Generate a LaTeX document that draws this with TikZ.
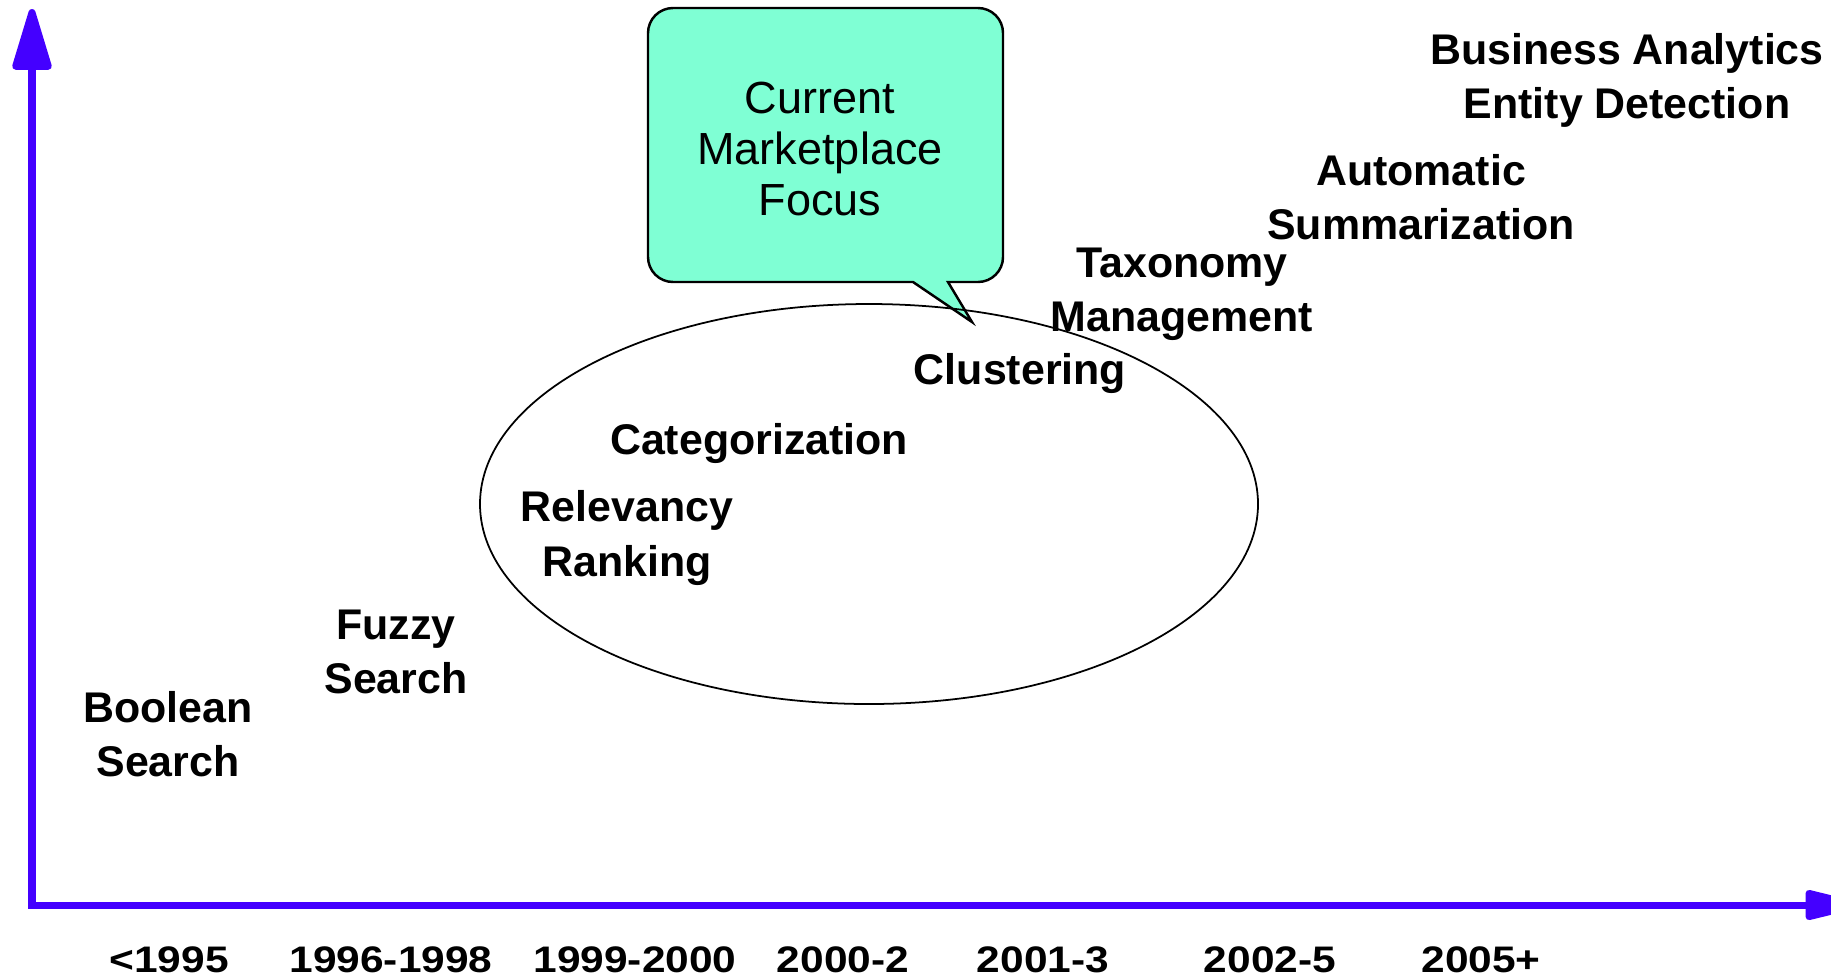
\documentclass[tikz,border=0pt]{standalone}
\usepackage{fontspec}
\setmainfont{Liberation Sans}
\usetikzlibrary{arrows.meta}

\definecolor{axisblue}{RGB}{68,0,255}
\definecolor{focusgreen}{RGB}{127,255,212}

\tikzset{
  lbl/.style={font=\bfseries\fontsize{12.2}{15.4}\selectfont,align=center,inner sep=0pt},
  yearlbl/.style={font=\bfseries\fontsize{10.5}{12}\selectfont,inner sep=0pt,xscale=1.15}
}

\begin{document}
\begin{tikzpicture}[x=0.01cm,y=-0.01cm]
\useasboundingbox (0,0) rectangle (1831,978);

% axes
\coordinate (ytop) at (32,9);
\coordinate (origin) at (32,905);
\coordinate (xend) at (1860,905);
\draw[axisblue,line width=0.07cm,line join=miter,
  {Triangle[length=0.7cm,width=0.4cm,round]}-{Triangle[length=0.67cm,width=0.3cm,round]}]
  (ytop) -- (origin) -- (xend);

% callout
\draw[fill=focusgreen,line width=0.7pt] (648,150) [rounded corners=0.25cm] -- (648,8) -- (1003,8)
  -- (1003,282) [sharp corners] -- (948,282) -- (972,322) -- (913,282)
  [rounded corners=0.25cm] -- (648,282) -- cycle;
\node[font=\fontsize{12.8}{14.5}\selectfont,align=center,inner sep=0pt] (focus) at (820,149)
  {Current\\Marketplace\\Focus};

% current focus
\draw[line width=0.5pt] (869,504) ellipse [x radius=389,y radius=200];

% techniques
\node[lbl] (boolean) at (168,734) {Boolean\\Search};
\node[lbl] (fuzzy) at (396,652) {Fuzzy\\Search};
\node[lbl] (relevancy) at (627,538) {Relevancy\\Ranking};
\node[lbl] (categ) at (759,443) {Categorization};
\node[lbl] (cluster) at (1020,373) {Clustering};
\node[lbl] (taxonomy) at (1182,294) {Taxonomy\\Management};
\node[lbl] (summ) at (1421,197) {Automatic\\Summarization};
\node[lbl] (business) at (1627,80) {Business Analytics\\Entity Detection};

% years
\node[yearlbl] (y1) at (169,960) {<1995};
\node[yearlbl] (y2) at (391,960) {1996-1998};
\node[yearlbl] (y3) at (635,960) {1999-2000};
\node[yearlbl] (y4) at (843,960) {2000-2};
\node[yearlbl] (y5) at (1043,960) {2001-3};
\node[yearlbl] (y6) at (1270,960) {2002-5};
\node[yearlbl] (y7) at (1481,960) {2005+};
\end{tikzpicture}
\end{document}
